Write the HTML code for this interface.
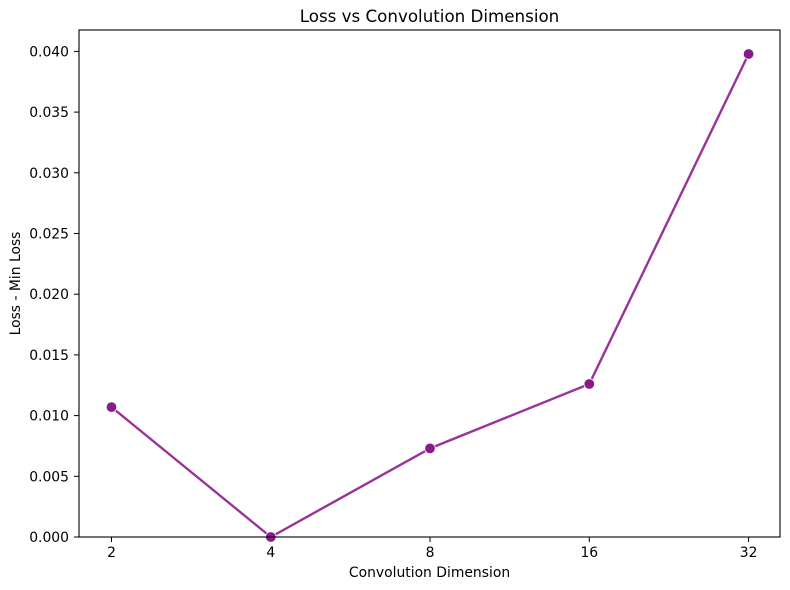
<!DOCTYPE html>
<html><head><meta charset="utf-8"><style>
html,body{margin:0;padding:0;background:#fff;}
svg{display:block;}
text{font-family:"DejaVu Sans","Liberation Sans",sans-serif;fill:#000;}
</style></head><body>
<svg width="790" height="590" viewBox="0 0 790 590" xmlns="http://www.w3.org/2000/svg">
<rect width="790" height="590" fill="#fff"/>
<text x="429.5" y="22" font-size="16.7" text-anchor="middle">Loss vs Convolution Dimension</text>
<g stroke="#000" stroke-width="1">
<line x1="74" y1="537" x2="79" y2="537"/>
<line x1="74" y1="476.3" x2="79" y2="476.3"/>
<line x1="74" y1="415.6" x2="79" y2="415.6"/>
<line x1="74" y1="354.9" x2="79" y2="354.9"/>
<line x1="74" y1="294.2" x2="79" y2="294.2"/>
<line x1="74" y1="233.5" x2="79" y2="233.5"/>
<line x1="74" y1="172.8" x2="79" y2="172.8"/>
<line x1="74" y1="112.1" x2="79" y2="112.1"/>
<line x1="74" y1="51.4" x2="79" y2="51.4"/>
<line x1="111.5" y1="537" x2="111.5" y2="542"/>
<line x1="270.8" y1="537" x2="270.8" y2="542"/>
<line x1="430" y1="537" x2="430" y2="542"/>
<line x1="589.3" y1="537" x2="589.3" y2="542"/>
<line x1="748.6" y1="537" x2="748.6" y2="542"/>
</g>
<g font-size="13.9" text-anchor="end">
<text x="69" y="542">0.000</text>
<text x="69" y="481.3">0.005</text>
<text x="69" y="420.6">0.010</text>
<text x="69" y="359.9">0.015</text>
<text x="69" y="299.2">0.020</text>
<text x="69" y="238.5">0.025</text>
<text x="69" y="177.8">0.030</text>
<text x="69" y="117.1">0.035</text>
<text x="69" y="56.4">0.040</text>
</g>
<g font-size="13.9" text-anchor="middle">
<text x="111.5" y="557">2</text>
<text x="270.8" y="557">4</text>
<text x="430" y="557">8</text>
<text x="589.3" y="557">16</text>
<text x="748.6" y="557">32</text>
</g>
<text x="429.5" y="577" font-size="13.9" text-anchor="middle">Convolution Dimension</text>
<text transform="translate(20,283.5) rotate(-90)" font-size="13.9" text-anchor="middle">Loss - Min Loss</text>
<polyline points="111.5,407.1 270.8,537 430,448.4 589.3,384 748.6,54" fill="none" stroke="#993399" stroke-width="2.4" stroke-linejoin="round"/>
<g fill="#8a1a8a" stroke="#fff" stroke-width="0.8">
<circle cx="111.5" cy="407.1" r="5.3"/>
<circle cx="270.8" cy="537" r="5.3"/>
<circle cx="430" cy="448.4" r="5.3"/>
<circle cx="589.3" cy="384" r="5.3"/>
<circle cx="748.6" cy="54" r="5.3"/>
</g>
<rect x="79" y="30" width="701" height="507" fill="none" stroke="#000" stroke-width="1.1"/>
</svg>
</body></html>
